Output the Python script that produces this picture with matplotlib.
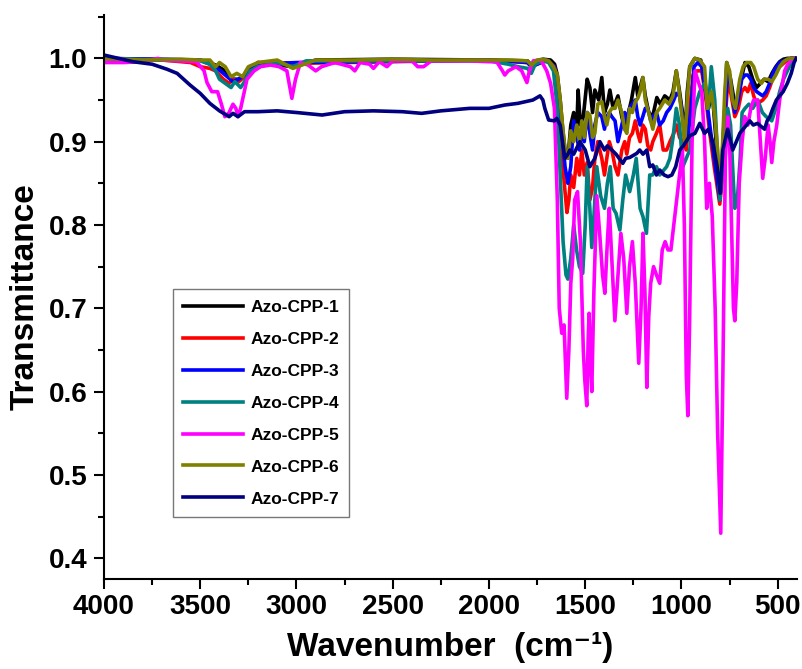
import numpy as np
import matplotlib.pyplot as plt
from matplotlib.ticker import MultipleLocator

plt.rcParams['font.family'] = ['Liberation Sans', 'DejaVu Sans']
plt.rcParams['font.weight'] = 'bold'

# Azo-CPP-1 (black)
wn_1 = [4000, 3800, 3500, 3420, 3370, 3340, 3300, 3260, 3200, 3020, 2900, 2500, 2000, 1800, 1780,
        1720, 1680, 1659, 1645, 1630, 1617, 1605, 1590, 1575, 1560, 1544, 1537, 1525, 1510, 1490,
        1476, 1462, 1450, 1430, 1414, 1400, 1385, 1372, 1355, 1330, 1310, 1295, 1280, 1260, 1240,
        1227, 1201, 1188, 1170, 1150, 1128, 1110, 1087, 1060, 1044, 1027, 1010, 995, 983, 970, 957,
        931, 900, 880, 860, 840, 820, 801, 790, 775, 765, 745, 723, 705, 690, 670, 650, 630, 610,
        590, 570, 550, 530, 510, 490, 470, 450, 430, 410]
tr_1 = [1.0, 0.999, 0.998, 0.992, 0.985, 0.975, 0.975, 0.982, 0.995, 0.99, 0.998, 0.999, 0.998, 0.997, 0.992,
        0.999, 0.998, 0.993, 0.98, 0.95, 0.915, 0.89, 0.88, 0.92, 0.935, 0.915, 0.962, 0.92, 0.93, 0.975,
        0.965, 0.935, 0.962, 0.95, 0.977, 0.935, 0.945, 0.962, 0.94, 0.955, 0.93, 0.915, 0.93, 0.95, 0.977,
        0.955, 0.977, 0.955, 0.935, 0.93, 0.953, 0.945, 0.955, 0.95, 0.96, 0.985, 0.96, 0.935, 0.9, 0.96, 0.99,
        1.0, 0.998, 0.975, 0.94, 0.96, 0.9, 0.84, 0.875, 0.94, 0.995, 0.975, 0.945, 0.955, 0.975, 0.995, 0.99,
        0.975, 0.965, 0.97, 0.975, 0.972, 0.982, 0.99, 0.996, 0.999, 1.0, 1.0, 1.0]

# Azo-CPP-2 (red)
wn_2 = [4000, 3700, 3550, 3500, 3450, 3420, 3380, 3350, 3330, 3300, 3270, 3230, 3200, 3000, 2000,
        1800, 1780, 1700, 1660, 1640, 1620, 1605, 1595, 1585, 1575, 1560, 1544, 1530, 1518, 1505,
        1490, 1476, 1462, 1450, 1435, 1414, 1400, 1388, 1375, 1362, 1345, 1330, 1310, 1295, 1284,
        1270, 1255, 1240, 1227, 1215, 1201, 1188, 1175, 1160, 1149, 1130, 1113, 1095, 1077, 1060,
        1040, 1025, 1010, 993, 975, 957, 940, 920, 895, 875, 853, 830, 801, 790, 775, 760, 745, 723,
        705, 687, 670, 656, 640, 625, 609, 578, 560, 542, 520, 490, 460, 430, 405]
tr_2 = [1.0, 0.998, 0.995, 0.99, 0.988, 0.985, 0.975, 0.97, 0.975, 0.972, 0.978, 0.99, 0.995, 0.994, 0.998,
        0.995, 0.99, 0.998, 0.99, 0.95, 0.88, 0.84, 0.815, 0.83, 0.86, 0.845, 0.88, 0.86, 0.89, 0.86,
        0.875, 0.83, 0.845, 0.88, 0.9, 0.88, 0.86, 0.88, 0.9, 0.89, 0.87, 0.86, 0.89, 0.9, 0.885,
        0.905, 0.91, 0.925, 0.91, 0.9, 0.92, 0.915, 0.895, 0.89, 0.9, 0.91, 0.92, 0.89, 0.89, 0.9,
        0.91, 0.92, 0.905, 0.9, 0.89, 0.94, 0.98, 0.985, 0.985, 0.955, 0.91, 0.87, 0.825, 0.85, 0.92, 0.97, 0.96, 0.93,
        0.94, 0.96, 0.965, 0.96, 0.97, 0.955, 0.945, 0.95, 0.955, 0.965, 0.98, 0.99, 0.996, 1.0, 1.0]

# Azo-CPP-3 (blue)
wn_3 = [4000, 3500, 3420, 3370, 3330, 3300, 3270, 3200, 3000, 2000, 1800, 1780, 1700, 1660, 1640,
        1620, 1605, 1590, 1575, 1560, 1544, 1530, 1518, 1505, 1490, 1476, 1462, 1450, 1435, 1414,
        1400, 1388, 1375, 1362, 1345, 1330, 1310, 1295, 1284, 1270, 1255, 1240, 1227, 1215, 1201,
        1188, 1175, 1160, 1149, 1130, 1113, 1095, 1077, 1060, 1040, 1027, 1010, 993, 980, 967, 950,
        935, 915, 895, 875, 853, 830, 801, 790, 775, 760, 745, 723, 705, 687, 670, 656, 640, 625,
        609, 578, 560, 542, 520, 490, 460, 430, 405]
tr_3 = [1.0, 0.998, 0.99, 0.98, 0.972, 0.975, 0.98, 0.993, 0.995, 0.998, 0.995, 0.99, 0.998, 0.99, 0.96,
        0.91, 0.87, 0.85, 0.87, 0.925, 0.905, 0.89, 0.915, 0.9, 0.935, 0.91, 0.89, 0.92, 0.935, 0.93,
        0.915, 0.93, 0.935, 0.93, 0.925, 0.9, 0.92, 0.935, 0.925, 0.94, 0.945, 0.95, 0.93, 0.92, 0.93,
        0.94, 0.94, 0.925, 0.93, 0.935, 0.92, 0.925, 0.935, 0.94, 0.95, 0.958, 0.955, 0.93, 0.92, 0.905, 0.94,
        0.99, 0.995, 0.99, 0.96, 0.92, 0.88, 0.83, 0.86, 0.93, 0.985, 0.97, 0.935, 0.95, 0.975, 0.98, 0.98, 0.975, 0.965,
        0.96, 0.955, 0.96, 0.97, 0.985, 0.995, 0.998, 1.0, 1.0]

# Azo-CPP-4 (teal)
wn_4 = [4000, 3700, 3500, 3450, 3420, 3400, 3370, 3340, 3320, 3290, 3270, 3240, 3200, 3100, 3020,
        2950, 2000, 1900, 1850, 1800, 1780, 1760, 1720, 1690, 1665, 1645, 1630, 1615, 1600, 1590,
        1575, 1560, 1545, 1530, 1513, 1500, 1490, 1476, 1466, 1455, 1440, 1420, 1400, 1385, 1370,
        1355, 1340, 1320, 1305, 1290, 1269, 1250, 1235, 1215, 1200, 1182, 1165, 1150, 1130, 1113,
        1095, 1077, 1060, 1044, 1027, 1010, 993, 975, 957, 931, 905, 880, 860, 845, 827, 801, 790,
        775, 760, 745, 730, 723, 710, 695, 685, 670, 650, 630, 604, 580, 560, 531, 510, 490, 470, 440,
        420, 405]
tr_4 = [1.0, 0.998, 0.997, 0.993, 0.985, 0.975, 0.97, 0.965, 0.972, 0.965, 0.972, 0.985, 0.99, 0.995, 0.99,
        0.997, 0.997, 0.993, 0.99, 0.988, 0.982, 0.993, 0.997, 0.995, 0.985, 0.94, 0.86, 0.78, 0.74, 0.735,
        0.76, 0.8, 0.77, 0.75, 0.742, 0.8, 0.87, 0.82, 0.773, 0.81, 0.87, 0.835, 0.82, 0.85, 0.87,
        0.82, 0.814, 0.794, 0.83, 0.86, 0.84, 0.86, 0.88, 0.82, 0.81, 0.79, 0.86, 0.86, 0.87, 0.86,
        0.865, 0.87, 0.88, 0.905, 0.94, 0.92, 0.87, 0.88, 0.89, 0.94, 0.96, 0.97, 0.94, 0.99, 0.95, 0.83, 0.86,
        0.93, 0.94, 0.92, 0.85, 0.82, 0.83, 0.88, 0.935, 0.94, 0.945, 0.94, 0.95, 0.935, 0.93, 0.925, 0.94, 0.96, 0.975, 0.99,
        0.998, 1.0]

# Azo-CPP-5 (magenta)
wn_5 = [4000, 3900, 3800, 3720, 3700, 3600, 3520, 3480, 3465, 3440, 3410, 3390, 3372, 3350, 3330,
        3315, 3304, 3290, 3257, 3220, 3187, 3135, 3090, 3050, 3024, 3005, 2980, 2940, 2900, 2870,
        2800, 2720, 2697, 2670, 2620, 2600, 2570, 2530, 2500, 2400, 2370, 2340, 2300, 2100, 2000,
        1960, 1930, 1918, 1900, 1860, 1830, 1803, 1790, 1770, 1730, 1700, 1680, 1660, 1645, 1635,
        1622, 1610, 1596, 1585, 1575, 1565, 1555, 1540, 1525, 1510, 1502, 1492, 1485, 1480, 1470,
        1466, 1455, 1440, 1425, 1410, 1398, 1385, 1375, 1360, 1346, 1330, 1315, 1300, 1284, 1270,
        1255, 1240, 1222, 1210, 1200, 1190, 1180, 1170, 1160, 1145, 1130, 1113, 1100, 1085, 1070,
        1055, 1040, 1025, 1010, 995, 985, 975, 967, 958, 945, 930, 910, 895, 880, 869, 855, 840,
        825, 812, 796, 785, 772, 760, 750, 740, 730, 723, 713, 700, 685, 671, 655, 640, 625, 604,
        590, 578, 565, 550, 540, 531, 520, 505, 490, 475, 464, 450, 430, 415, 405]
tr_5 = [0.995, 0.995, 0.996, 1.0, 0.998, 0.997, 0.996, 0.985, 0.971, 0.96, 0.96, 0.945, 0.93, 0.935, 0.945,
        0.94, 0.93, 0.94, 0.975, 0.985, 0.99, 0.992, 0.99, 0.985, 0.952, 0.975, 0.995, 0.992, 0.985, 0.99,
        0.995, 0.99, 0.985, 0.995, 0.993, 0.988, 0.996, 0.99, 0.997, 0.997, 0.99, 0.99, 0.997, 0.997, 0.996,
        0.996, 0.985, 0.98, 0.985, 0.99, 0.985, 0.971, 0.985, 0.997, 0.998, 0.985, 0.97, 0.94, 0.83, 0.7,
        0.67, 0.68, 0.592, 0.65, 0.73, 0.76, 0.83, 0.84, 0.78, 0.65, 0.613, 0.583, 0.66, 0.694, 0.62,
        0.6, 0.72, 0.835, 0.79, 0.74, 0.718, 0.78, 0.82, 0.75, 0.685, 0.74, 0.79, 0.76, 0.694, 0.75,
        0.78, 0.73, 0.634, 0.7, 0.79, 0.72, 0.605, 0.69, 0.73, 0.75, 0.74, 0.73, 0.77, 0.78, 0.77,
        0.77, 0.8, 0.83, 0.86, 0.89, 0.8, 0.62, 0.571, 0.68, 0.9, 0.985, 0.97, 0.96, 0.9, 0.82, 0.85, 0.81,
        0.7, 0.55, 0.43, 0.62, 0.88, 0.93, 0.9, 0.8, 0.7, 0.685, 0.73, 0.85, 0.9, 0.93, 0.92, 0.94, 0.95, 0.95,
        0.9, 0.856, 0.88, 0.92, 0.9, 0.875, 0.9, 0.92, 0.95, 0.97, 0.985, 0.992, 0.998, 1.0, 1.0]

# Azo-CPP-6 (olive)
wn_6 = [4000, 3800, 3600, 3500, 3450, 3420, 3400, 3370, 3340, 3310, 3280, 3250, 3200, 3100, 3019,
        2900, 2700, 2500, 2300, 2100, 1900, 1800, 1780, 1750, 1720, 1690, 1665, 1645, 1630, 1617,
        1605, 1590, 1575, 1560, 1544, 1530, 1518, 1505, 1490, 1476, 1462, 1450, 1435, 1414, 1400,
        1388, 1375, 1362, 1345, 1330, 1310, 1295, 1284, 1269, 1255, 1240, 1227, 1215, 1200, 1188,
        1165, 1149, 1130, 1113, 1087, 1065, 1044, 1027, 1012, 1000, 983, 970, 957, 931, 905, 880,
        866, 845, 827, 812, 801, 790, 775, 765, 750, 735, 720, 697, 680, 662, 640, 625, 604, 585, 570,
        550, 531, 510, 490, 470, 450, 430, 405]
tr_6 = [1.0, 0.998, 0.999, 0.998, 0.998, 0.99, 0.995, 0.99, 0.978, 0.982, 0.978, 0.99, 0.995, 0.998, 0.988,
        0.998, 0.998, 0.999, 0.998, 0.998, 0.998, 0.997, 0.992, 0.998, 0.999, 0.997, 0.99, 0.98, 0.95, 0.917,
        0.89, 0.88, 0.913, 0.9, 0.92, 0.9, 0.925, 0.905, 0.935, 0.932, 0.905, 0.91, 0.945, 0.948, 0.93,
        0.92, 0.935, 0.94, 0.94, 0.95, 0.935, 0.915, 0.91, 0.94, 0.935, 0.948, 0.952, 0.96, 0.977, 0.95,
        0.93, 0.915, 0.935, 0.94, 0.95, 0.945, 0.955, 0.985, 0.96, 0.935, 0.9, 0.95, 0.99, 1.0, 0.998, 0.99,
        0.94, 0.96, 0.93, 0.89, 0.84, 0.88, 0.96, 0.995, 0.985, 0.95, 0.94, 0.975, 0.99, 0.995, 0.995, 0.99,
        0.975, 0.97, 0.975, 0.975, 0.972, 0.98, 0.99, 0.996, 0.999, 1.0, 1.0]

# Azo-CPP-7 (navy)
wn_7 = [4000, 3850, 3750, 3673, 3620, 3553, 3500, 3450, 3400, 3350, 3330, 3304, 3270, 3200, 3100,
        3000, 2867, 2750, 2600, 2450, 2350, 2250, 2100, 2000, 1918, 1850, 1772, 1735, 1720, 1710,
        1690, 1660, 1648, 1630, 1606, 1590, 1580, 1560, 1528, 1500, 1476, 1450, 1424, 1400, 1385,
        1362, 1340, 1305, 1290, 1269, 1232, 1217, 1200, 1180, 1165, 1149, 1130, 1113, 1090, 1070,
        1050, 1030, 1009, 990, 957, 930, 905, 880, 860, 838, 815, 799, 785, 760, 734, 715, 697, 680,
        662, 645, 627, 605, 585, 568, 555, 541, 525, 507, 490, 472, 450, 430, 415, 404]
tr_7 = [1.004, 0.996, 0.993, 0.987, 0.982, 0.968, 0.958, 0.946, 0.937, 0.93, 0.934, 0.93, 0.936, 0.936, 0.937,
        0.935, 0.932, 0.936, 0.937, 0.936, 0.934, 0.937, 0.94, 0.94, 0.944, 0.946, 0.95, 0.955, 0.95, 0.94,
        0.926, 0.925, 0.928, 0.92, 0.88, 0.885, 0.89, 0.885, 0.9, 0.89, 0.87, 0.88, 0.9, 0.89, 0.895,
        0.89, 0.885, 0.874, 0.88, 0.881, 0.886, 0.89, 0.885, 0.89, 0.87, 0.872, 0.86, 0.866, 0.86, 0.858,
        0.86, 0.87, 0.89, 0.895, 0.907, 0.91, 0.922, 0.91, 0.915, 0.9, 0.87, 0.838, 0.89, 0.915, 0.89, 0.9, 0.91, 0.915,
        0.92, 0.925, 0.92, 0.922, 0.918, 0.915, 0.925, 0.93, 0.94, 0.95, 0.955, 0.96, 0.97, 0.982, 0.995, 1.0]

labels = ["Azo-CPP-1", "Azo-CPP-2", "Azo-CPP-3", "Azo-CPP-4", "Azo-CPP-5", "Azo-CPP-6", "Azo-CPP-7"]
colors = ["#000000", "#ff0000", "#0000ff", "#008080", "#ff00ff", "#808000", "#000080"]
series = [(wn_1, tr_1), (wn_2, tr_2), (wn_3, tr_3), (wn_4, tr_4), (wn_5, tr_5), (wn_6, tr_6), (wn_7, tr_7)]

fig = plt.figure(figsize=(8.03, 6.69), dpi=100)
ax = fig.add_axes([0.1295, 0.1345, 0.863, 0.843])

for (wn, tr), c, lab in zip(series, colors, labels):
    ax.plot(wn, tr, color=c, lw=2.6, label=lab, solid_joinstyle='round')

ax.set_xlim(4000, 400)
ax.set_ylim(0.375, 1.052)
ax.xaxis.set_major_locator(MultipleLocator(500))
ax.xaxis.set_minor_locator(MultipleLocator(250))
ax.yaxis.set_major_locator(MultipleLocator(0.1))
ax.yaxis.set_minor_locator(MultipleLocator(0.05))
ax.yaxis.set_major_formatter(plt.FuncFormatter(lambda v, p: f"{v:.1f}"))

for s in ['top', 'right']:
    ax.spines[s].set_visible(False)
for s in ['left', 'bottom']:
    ax.spines[s].set_linewidth(1.5)

ax.tick_params(which='major', direction='out', length=7, width=1.5, labelsize=20)
ax.tick_params(axis='y', which='major', pad=5)
ax.tick_params(which='minor', direction='out', length=4, width=1.5)
for t in ax.get_xticklabels() + ax.get_yticklabels():
    t.set_fontweight('bold')

ax.set_xlabel("Wavenumber  (cm\u207b\u00b9)", fontsize=24, fontweight='bold', labelpad=9)
ax.set_ylabel("Transmittance", fontsize=24, fontweight='bold', labelpad=6)

leg = ax.legend(loc='lower left', bbox_to_anchor=(0.0996, 0.11), borderaxespad=0,
                fancybox=False, edgecolor='#555555', handlelength=3.45, handletextpad=0.4,
                labelspacing=0.97, borderpad=0.6, prop={'weight': 'bold', 'size': 12.5})
leg.get_frame().set_linewidth(1.0)

fig.savefig("out.png", dpi=100)
